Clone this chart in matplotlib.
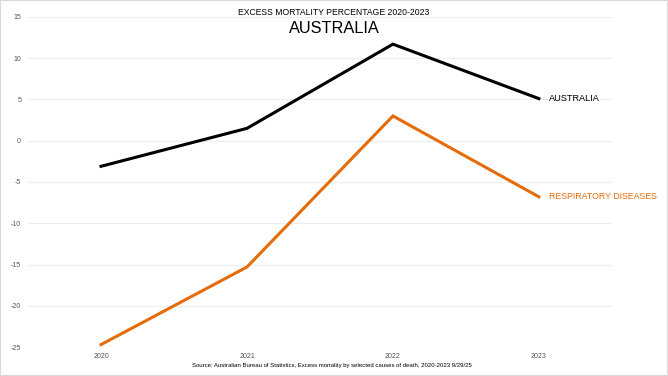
import matplotlib.pyplot as plt
from matplotlib.patches import Rectangle

plt.rcParams['font.family'] = ['Liberation Sans', 'DejaVu Sans']

years = ['2020', '2021', '2022', '2023']
australia = [-3.1, 1.5, 11.7, 5.1]
respiratory = [-24.7, -15.3, 3.0, -6.8]
yticks = [-25, -20, -15, -10, -5, 0, 5, 10, 15]

orange = '#E46C0A'

fig = plt.figure(figsize=(6.68, 3.76), dpi=100)
ax = fig.add_axes([0.042, 0.077, 0.874, 0.878])

x = range(len(years))
ax.plot(x, australia, color='black', lw=2.2, solid_joinstyle='miter')
ax.plot(x, respiratory, color=orange, lw=2.2, solid_joinstyle='miter')

ax.annotate('AUSTRALIA', (3, australia[-1]), xytext=(7, 0), textcoords='offset points',
            va='center', ha='left', fontsize=6.6, color='black')
ax.annotate('RESPIRATORY DISEASES', (3, respiratory[-1]), xytext=(7, 0), textcoords='offset points',
            va='center', ha='left', fontsize=6.3, color=orange)

ax.set_xlim(-0.5, 3.5)
ax.set_ylim(-25, 15)
ax.set_xticks(list(x))
ax.set_xticklabels(years)
ax.set_yticks(yticks)
ax.set_yticklabels([str(t) for t in yticks])
ax.tick_params(length=0, labelsize=5, colors='#555555', pad=5)
ax.tick_params(axis='x', pad=4)
ax.grid(axis='y', color='#eeeeee', lw=0.8)
ax.set_axisbelow(True)
for s in ax.spines.values():
    s.set_visible(False)

fig.text(0.5, 0.968, 'EXCESS MORTALITY PERCENTAGE 2020-2023', ha='center', va='center', fontsize=6.2)
fig.text(0.5, 0.925, 'AUSTRALIA', ha='center', va='center', fontsize=11.8)
fig.text(0.497, 0.027, 'Source: Australian Bureau of Statistics, Excess mortality by selected causes of death, 2020-2023 9/29/25',
         ha='center', va='center', fontsize=4.3)

fig.patches.append(Rectangle((0, 0), 1, 1, transform=fig.transFigure, fill=False,
                             edgecolor='#d9d9d9', lw=1.5))

fig.savefig('out.png', dpi=100)
